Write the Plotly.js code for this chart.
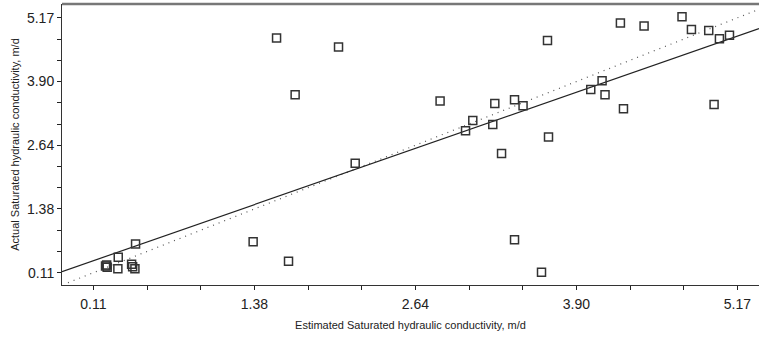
<!DOCTYPE html>
<html>
<head>
<meta charset="utf-8">
<script src="https://cdn.plot.ly/plotly-3.0.1.min.js"></script>
<style>html,body{margin:0;padding:0;background:#fff;}#chart{width:759px;height:338px;}</style>
</head>
<body>
<div id="chart"></div>
<script>
// Estimated (x) vs actual (y) saturated hydraulic conductivity, m/d
var estimated = [1.549, 2.036, 1.695, 2.834, 3.264, 3.091, 3.034, 3.248, 3.317, 2.167,
                 3.419, 3.486, 3.678, 4.251, 4.437, 4.735, 4.809, 4.945, 5.029, 5.108,
                 4.107, 4.018, 4.130, 4.275, 4.987, 3.686, 3.419, 3.631, 1.365, 1.643,
                 0.441, 0.305, 0.214, 0.218, 0.205, 0.302, 0.410, 0.418, 0.436];
var actual    = [4.770, 4.590, 3.643, 3.518, 3.470, 3.132, 2.927, 3.052, 2.476, 2.285,
                 3.543, 3.424, 4.722, 5.068, 5.009, 5.190, 4.941, 4.921, 4.756, 4.822,
                 3.921, 3.748, 3.643, 3.365, 3.450, 2.802, 0.766, 0.118, 0.726, 0.337,
                 0.681, 0.416, 0.263, 0.217, 0.240, 0.190, 0.277, 0.229, 0.190];

// Tick labels
var tickValues = [0.11, 1.375, 2.64, 3.905, 5.17];
var tickLabels = ['0.11', '1.38', '2.64', '3.90', '5.17'];

// Regression line and 1:1 line
var fitX = [-0.137, 5.34];
var fitY = [0.13, 4.955];
var oneToOneX = [-0.09, 5.34];
var oneToOneY = [-0.09, 5.34];

var xRange = [-0.137, 5.34];
var yRange = [-0.135, 5.445];

var traces = [
  {x: oneToOneX, y: oneToOneY, mode: 'lines', type: 'scatter',
   line: {color: '#555', width: 1.2, dash: '1px,5px'}, hoverinfo: 'skip'},
  {x: fitX, y: fitY, mode: 'lines', type: 'scatter',
   line: {color: '#222', width: 1.2}, hoverinfo: 'skip'},
  {x: estimated, y: actual, mode: 'markers', type: 'scatter',
   marker: {symbol: 'square-open', size: 8, color: '#333', line: {width: 1.5, color: '#333'}}}
];

var minorStep = (tickValues[1] - tickValues[0]) / 3;

var axisCommon = {
  range: null, tickmode: 'array', tickvals: tickValues, ticktext: tickLabels,
  ticks: 'outside', ticklen: 4, tickwidth: 1, tickcolor: '#222',
  showgrid: false, zeroline: false, showline: true, linecolor: '#333', linewidth: 1,
  tickfont: {family: 'Liberation Sans, Arial, sans-serif', size: 14, color: '#222'},
  minor: {tick0: tickValues[0], dtick: minorStep, ticks: 'outside', ticklen: 4, tickcolor: '#222', showgrid: false}
};

var layout = {
  width: 759, height: 338,
  margin: {l: 62, r: 0, t: 4, b: 53},
  paper_bgcolor: '#fff', plot_bgcolor: '#fff',
  showlegend: false,
  xaxis: Object.assign({}, axisCommon, {
    range: xRange, ticklabelstandoff: 2,
    title: {text: 'Estimated Saturated hydraulic conductivity, m/d', standoff: 10,
            font: {family: 'Liberation Sans, Arial, sans-serif', size: 11, color: '#222'}}
  }),
  yaxis: Object.assign({}, axisCommon, {
    range: yRange,
    title: {text: 'Actual Saturated hydraulic conductivity, m/d', standoff: 5,
            font: {family: 'Liberation Sans, Arial, sans-serif', size: 11, color: '#222'}}
  }),
  shapes: [
    {type: 'line', xref: 'paper', yref: 'paper', x0: 0, x1: 1, y0: 1, y1: 1,
     line: {color: '#777', width: 2.5}}
  ]
};

Plotly.newPlot('chart', traces, layout, {displayModeBar: false, staticPlot: true});
</script>
</body>
</html>
